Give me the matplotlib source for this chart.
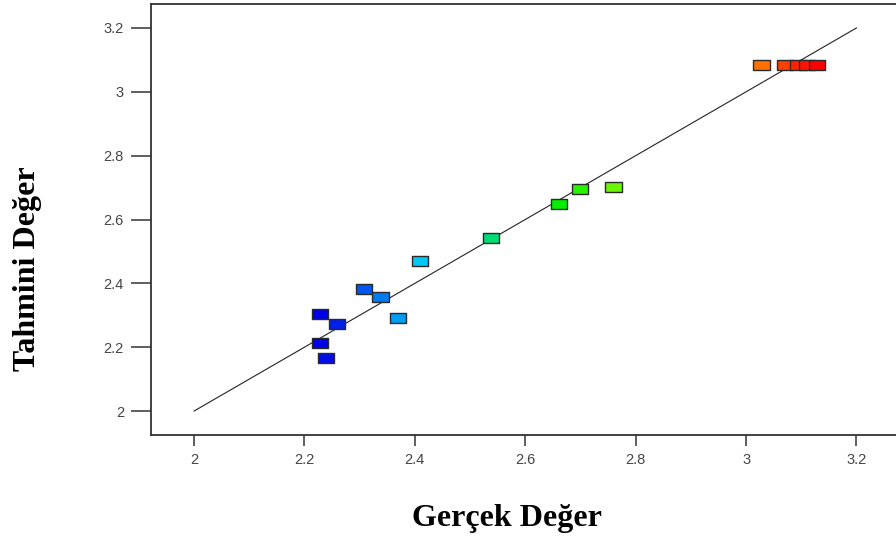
import numpy as np
import matplotlib.pyplot as plt
from matplotlib.colors import LinearSegmentedColormap
from matplotlib.path import Path

gercek = [2.228, 2.259, 2.228, 2.239, 2.308, 2.338, 2.369, 2.409,
          2.538, 2.661, 2.699, 2.760, 3.028, 3.071, 3.095, 3.110, 3.129]
tahmini = [2.304, 2.273, 2.213, 2.166, 2.382, 2.357, 2.292, 2.470,
           2.542, 2.649, 2.696, 2.702, 3.085, 3.085, 3.085, 3.085, 3.085]
ticks = [2, 2.2, 2.4, 2.6, 2.8, 3, 3.2]
tick_labels = ['2', '2.2', '2.4', '2.6', '2.8', '3', '3.2']

fig = plt.figure(figsize=(8.96, 5.43), dpi=100)
ax = fig.add_axes([0.1685, 0.1989, 0.849, 0.7937])

# y = x reference line
ax.plot([2, 3.2], [2, 3.2], color='#222222', lw=0.8, zorder=1)

# wide rectangle marker like the original software
rect = Path([(-1, -0.62), (1, -0.62), (1, 0.62), (-1, 0.62), (-1, -0.62)],
            [Path.MOVETO, Path.LINETO, Path.LINETO, Path.LINETO, Path.CLOSEPOLY])
cmap = LinearSegmentedColormap.from_list(
    'de', [(0, '#0000e8'), (0.2, '#00c8f5'), (0.48, '#00f000'),
           (0.75, '#ffff00'), (1, '#ff0000')])
ax.scatter(gercek, tahmini, c=gercek, cmap=cmap, marker=rect, s=140,
           edgecolors='#2a2a2a', linewidths=1.0, zorder=2)

ax.set_xlim(1.922, 3.30)
ax.set_ylim(1.925, 3.275)
ax.set_xticks(ticks)
ax.set_xticklabels(tick_labels)
ax.set_yticks(ticks)
ax.set_yticklabels(tick_labels)

for s in ['left', 'bottom', 'top']:
    ax.spines[s].set_linewidth(1.3)
    ax.spines[s].set_color('#333333')
ax.spines['right'].set_visible(False)

ax.tick_params(axis='y', direction='out', length=14.5, width=1.1,
               color='#333333', pad=5, labelsize=10.5, labelcolor='#444444')
ax.tick_params(axis='x', direction='out', length=8, width=1.1,
               color='#333333', pad=5, labelsize=10.5, labelcolor='#444444')
for lab in ax.get_xticklabels() + ax.get_yticklabels():
    lab.set_family('Liberation Sans')

fig.text(0.566, 0.045, 'Gerçek Değer', ha='center', va='center',
         family='Liberation Serif', fontweight='bold', fontsize=23)
fig.text(0.031, 0.505, 'Tahmini Değer', ha='center', va='center', rotation=90,
         family='Liberation Serif', fontweight='bold', fontsize=23)

fig.savefig('out.png', dpi=100)
